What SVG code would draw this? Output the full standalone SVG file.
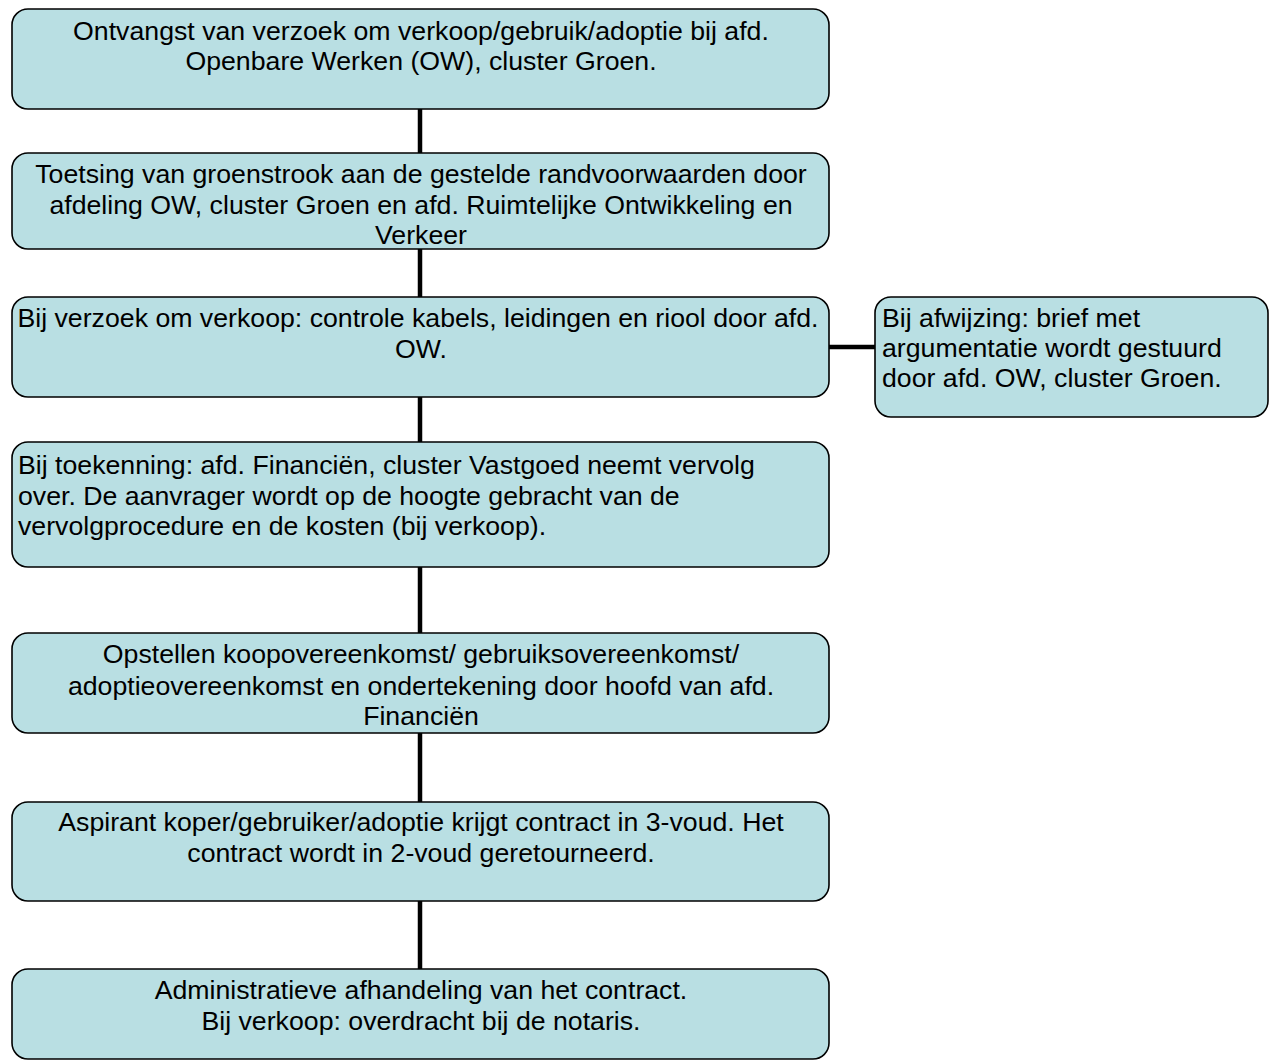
<svg xmlns="http://www.w3.org/2000/svg" width="1269" height="1061" viewBox="0 0 1269 1061">
<style>
.box{fill:#B9DFE3;stroke:#000;stroke-width:1.6}
.t{font-family:"Liberation Sans",Arial,sans-serif;font-size:26.7px;fill:#000}
.c{text-anchor:middle}
.conn{stroke:#000;stroke-width:4.5;fill:none}
</style>
<rect width="1269" height="1061" fill="#fff"/>
<g id="connectors">
<line class="conn" x1="420" y1="109" x2="420" y2="153"/>
<line class="conn" x1="420" y1="249" x2="420" y2="297"/>
<line class="conn" x1="420" y1="397" x2="420" y2="442"/>
<line class="conn" x1="420" y1="567" x2="420" y2="633"/>
<line class="conn" x1="420" y1="733" x2="420" y2="802"/>
<line class="conn" x1="420" y1="901" x2="420" y2="969"/>
<line class="conn" x1="829" y1="347" x2="875" y2="347"/>
</g>
<g id="n1">
<rect class="box" x="12" y="9" width="817" height="100" rx="16"/>
<text class="t c" x="421" y="40">Ontvangst van verzoek om verkoop/gebruik/adoptie bij afd.</text>
<text class="t c" x="421" y="70">Openbare Werken (OW), cluster Groen.</text>
</g>
<g id="n2">
<rect class="box" x="12" y="153" width="817" height="96" rx="16"/>
<text class="t c" x="421" y="183">Toetsing van groenstrook aan de gestelde randvoorwaarden door</text>
<text class="t c" x="421" y="214">afdeling OW, cluster Groen en afd. Ruimtelijke Ontwikkeling en</text>
<text class="t c" x="421" y="244">Verkeer</text>
</g>
<g id="n3">
<rect class="box" x="12" y="297" width="817" height="100" rx="16"/>
<text class="t c" x="418" y="327">Bij verzoek om verkoop: controle kabels, leidingen en riool door afd.</text>
<text class="t c" x="421" y="358">OW.</text>
</g>
<g id="n3b">
<rect class="box" x="875" y="297" width="393" height="120" rx="16"/>
<text class="t" x="882" y="327">Bij afwijzing: brief met</text>
<text class="t" x="882" y="357">argumentatie wordt gestuurd</text>
<text class="t" x="882" y="387">door afd. OW, cluster Groen.</text>
</g>
<g id="n4">
<rect class="box" x="12" y="442" width="817" height="125" rx="16"/>
<text class="t" x="18" y="474">Bij toekenning: afd. Financiën, cluster Vastgoed neemt vervolg</text>
<text class="t" x="18" y="505">over. De aanvrager wordt op de hoogte gebracht van de</text>
<text class="t" x="18" y="535">vervolgprocedure en de kosten (bij verkoop).</text>
</g>
<g id="n5">
<rect class="box" x="12" y="633" width="817" height="100" rx="16"/>
<text class="t c" x="421" y="663">Opstellen koopovereenkomst/ gebruiksovereenkomst/</text>
<text class="t c" x="421" y="695">adoptieovereenkomst en ondertekening door hoofd van afd.</text>
<text class="t c" x="421" y="725">Financiën</text>
</g>
<g id="n6">
<rect class="box" x="12" y="802" width="817" height="99" rx="16"/>
<text class="t c" x="421" y="831">Aspirant koper/gebruiker/adoptie krijgt contract in 3-voud. Het</text>
<text class="t c" x="421" y="862">contract wordt in 2-voud geretourneerd.</text>
</g>
<g id="n7">
<rect class="box" x="12" y="969" width="817" height="90" rx="16"/>
<text class="t c" x="421" y="999">Administratieve afhandeling van het contract.</text>
<text class="t c" x="421" y="1030">Bij verkoop: overdracht bij de notaris.</text>
</g>
</svg>
